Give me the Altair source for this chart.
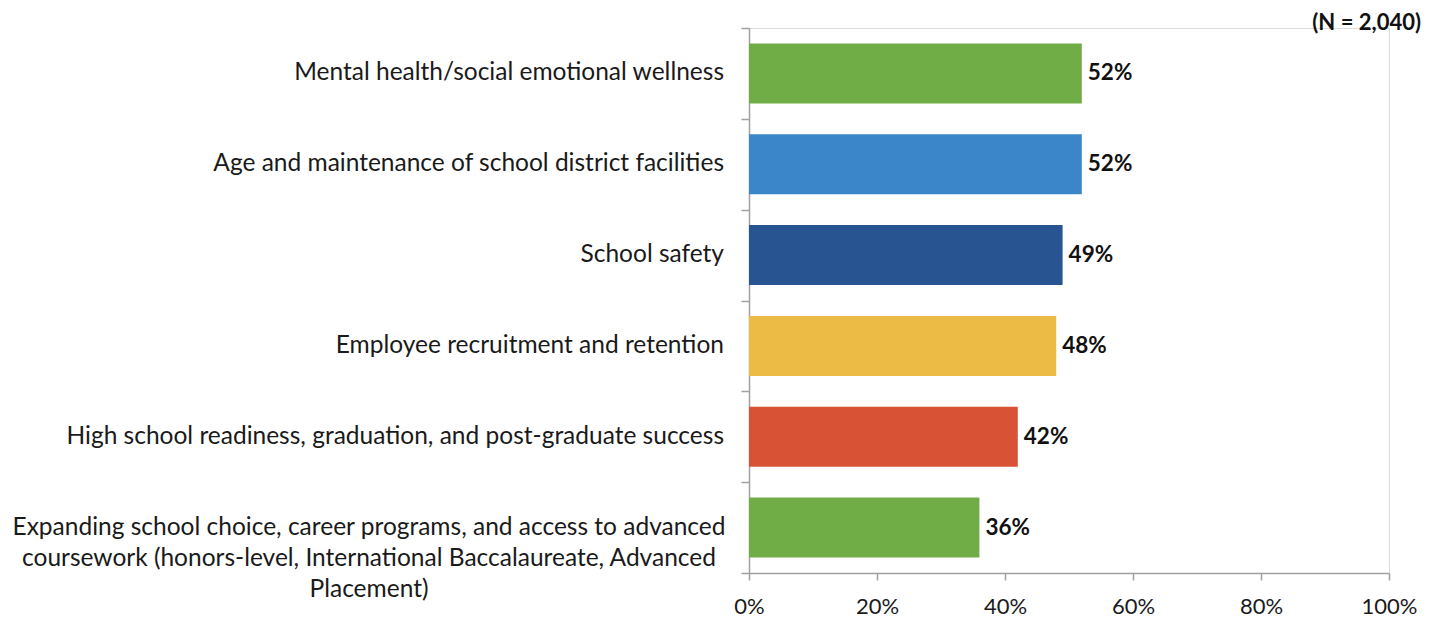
import altair as alt
import pandas as pd

categories = [
    "Mental health/social emotional wellness",
    "Age and maintenance of school district facilities",
    "School safety",
    "Employee recruitment and retention",
    "High school readiness, graduation, and post-graduate success",
    "Expanding school choice, career programs, and access to advanced|coursework (honors-level, International Baccalaureate, Advanced|Placement)",
]
values = [0.52, 0.52, 0.49, 0.48, 0.42, 0.36]
labels = ["52%", "52%", "49%", "48%", "42%", "36%"]
colors = ["#70AD47", "#3A86C8", "#285592", "#ECBB45", "#D85336", "#70AD47"]
wrapped = [False, False, False, False, False, True]
note = "(N = 2,040)"

FONT = "Lato"
df = pd.DataFrame({"cat": categories, "val": values, "lab": labels, "wrapped": wrapped})

y_scale = alt.Scale(domain=categories, paddingInner=0, paddingOuter=0)

y_enc = alt.Y(
    "cat:N",
    sort=categories,
    title=None,
    scale=y_scale,
    axis=alt.Axis(
        labels=False,
        tickBand="extent",
        tickSize=8,
        tickColor="#A0A0A0",
        tickWidth=1.5,
        domainColor="#A0A0A0",
        domainWidth=1.5,
        grid=False,
    ),
)

x_enc = alt.X(
    "val:Q",
    title=None,
    scale=alt.Scale(domain=[0, 1], nice=False),
    axis=alt.Axis(
        orient="bottom",
        values=[0, 0.2, 0.4, 0.6, 0.8, 1.0],
        format=".0%",
        labelFont=FONT,
        labelFontSize=22,
        labelColor="#1a1a1a",
        labelPadding=16,
        labelFlush=False,
        tickSize=7,
        tickColor="#A0A0A0",
        tickWidth=1.5,
        domainColor="#A0A0A0",
        domainWidth=1.5,
        grid=False,
    ),
)

base = alt.Chart(df)

bars = base.mark_bar(height={"band": 0.66}).encode(
    x=x_enc,
    y=y_enc,
    color=alt.Color("cat:N", scale=alt.Scale(domain=categories, range=colors), legend=None),
)

texts = base.mark_text(
    align="left", baseline="middle", dx=6, font=FONT, fontSize=22.5, fontWeight="bold", color="#111111"
).encode(
    x=alt.X("val:Q"),
    y=alt.Y("cat:N", sort=categories, scale=y_scale),
    text="lab:N",
)

cat_single = base.transform_filter("!datum.wrapped").mark_text(
    align="right", baseline="middle", font=FONT, fontSize=24.5, color="#1a1a1a"
).encode(
    x=alt.value(-25),
    y=alt.Y("cat:N", sort=categories, scale=y_scale),
    text="cat:N",
)

cat_wrapped = base.transform_filter("datum.wrapped").transform_calculate(
    lines="split(datum.cat, '|')"
).mark_text(
    align="center", baseline="middle", font=FONT, fontSize=24.5, lineHeight=31, color="#1a1a1a"
).encode(
    x=alt.value(-380),
    y=alt.Y("cat:N", sort=categories, scale=y_scale),
    text="lines:N",
)

note_layer = alt.Chart(pd.DataFrame({"t": [note]})).mark_text(
    align="right", baseline="middle", font=FONT, fontSize=22, fontWeight="bold", color="#111111"
).encode(
    x=alt.value(672),
    y=alt.value(-5),
    text="t:N",
)

chart = (
    alt.layer(bars, texts, cat_single, cat_wrapped, note_layer)
    .properties(
        width=640,
        height=545,
        padding={"left": 741, "top": 20, "right": 33, "bottom": 46},
        autosize=alt.AutoSizeParams(type="none"),
    )
    .configure_view(strokeWidth=0)
    .configure(background="white")
)

chart.save("out.html", embed_options={"renderer": "svg", "actions": False})
